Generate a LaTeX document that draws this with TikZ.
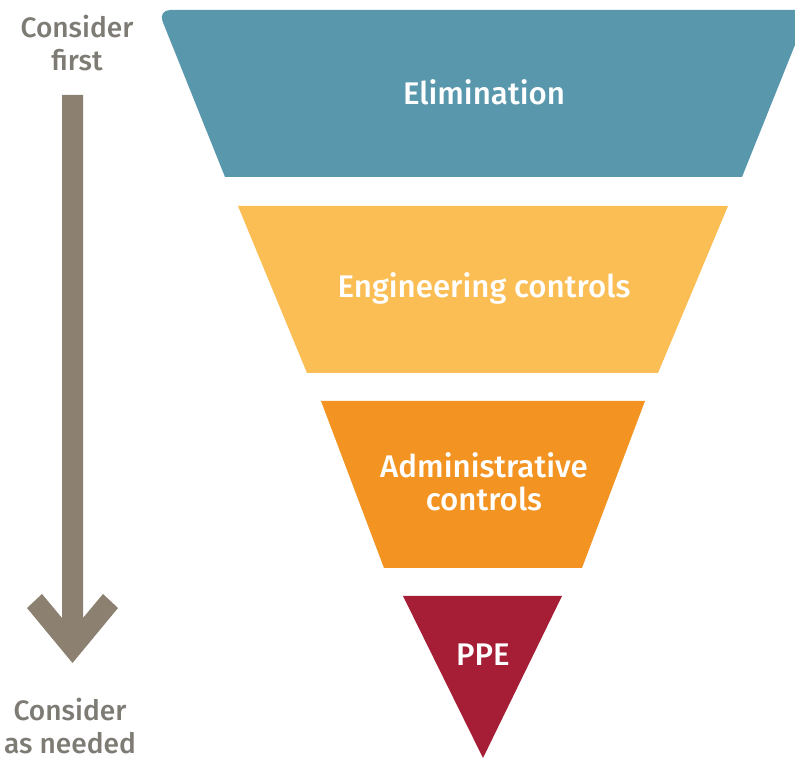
\documentclass[tikz,border=0pt]{standalone}
\usepackage{fontspec}
\setmainfont{Fira Sans}[UprightFont={* Medium}]
\usetikzlibrary{positioning}
\definecolor{elimblue}{HTML}{5897AC}
\definecolor{enggold}{HTML}{FBBE55}
\definecolor{admorange}{HTML}{F39322}
\definecolor{ppered}{HTML}{A51E36}
\definecolor{arrowgray}{HTML}{8C8070}
\definecolor{sidegray}{HTML}{7D7B74}
\begin{document}
\begin{tikzpicture}[x=0.02cm, y=-0.02cm,
        tier/.style={text=white, align=center, font=\fontsize{17.8}{19}\selectfont},
        sidetext/.style={text=sidegray, align=center, font=\fontsize{16}{18.5}\selectfont}]
    \useasboundingbox (0,0) rectangle (795,759);
    % funnel
    \fill[elimblue] (742,177) -- (225,177) [rounded corners=7pt] -- (158,10) [sharp corners] -- (809,10) -- cycle;
    \fill[enggold] (238,206) -- (728,206) -- (658,373) -- (307,373) -- cycle;
    \fill[admorange] (321,401) -- (645,401) -- (582,568) -- (384,568) -- cycle;
    \fill[ppered] (403,596) -- (562,596) -- (483,758) -- cycle;
    \node[tier] (elim) at (484,92) {Elimination};
    \node[tier] (eng) at (484,288) {Engineering controls};
    \node[tier] (adm) at (484,482) {Administrative\\controls};
    \node[tier] (ppe) at (483,655) {PPE};
    % side arrow
    \node[sidetext] (first) at (77,43) {Consider\\first};
    \node[sidetext] (needed) at (70,726) {Consider\\as needed};
    \fill[arrowgray] (62,95) -- (62,618) -- (42,594) -- (27,608) -- (72.5,663) -- (118,608) -- (103,594) -- (83,618) -- (83,95) -- cycle;
\end{tikzpicture}
\end{document}
